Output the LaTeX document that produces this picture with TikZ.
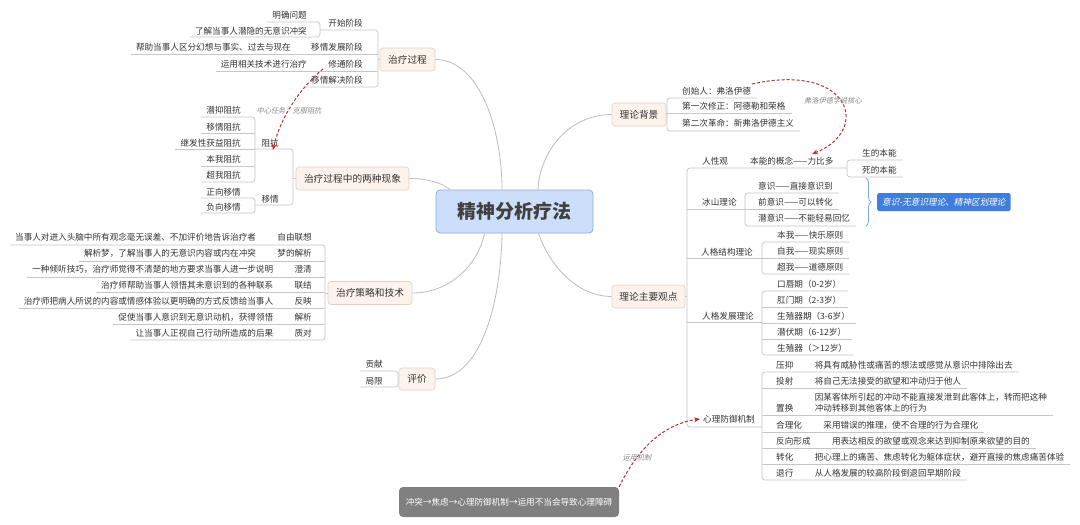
\documentclass[tikz,border=0pt]{standalone}
\usepackage{fontspec}
\setmainfont{Noto Sans CJK SC}
\newfontfamily\slfont[FakeSlant=0.2]{Noto Sans CJK SC}
\usetikzlibrary{decorations.pathreplacing,arrows.meta}
\definecolor{txtc}{HTML}{333333}
\definecolor{linec}{HTML}{C6C6C6}
\definecolor{curvec}{HTML}{BDBDBD}
\definecolor{topicfill}{HTML}{FDF3EC}
\definecolor{topicdraw}{HTML}{E3CFC1}
\definecolor{rootfill}{HTML}{CCDEFA}
\definecolor{rootdraw}{HTML}{8FAAD8}
\definecolor{relc}{HTML}{B83232}
\definecolor{sumfill}{HTML}{3F7FDB}
\definecolor{bracec}{HTML}{7FA8E0}
\definecolor{graybox}{HTML}{808080}
\definecolor{notec}{HTML}{8A8A8A}
\newcommand\ulL[2]{\coordinate (tmp) at ([xshift=-5pt]#1.west); \coordinate (#1u) at (tmp |- 0,#2);}
\newcommand\ulR[2]{\coordinate (tmp) at ([xshift=6pt]#1.east); \coordinate (#1u) at (tmp |- 0,#2);}
\begin{document}
\begin{tikzpicture}[x=1pt,y=-1pt,
  txt/.style={inner sep=0pt, font=\fontsize{8.6}{10.7}\selectfont, text=txtc},
  topic/.style={draw=topicdraw, fill=topicfill, rounded corners=3pt, font=\fontsize{9.7}{11}\selectfont, text=txtc, minimum height=23pt, inner sep=0pt, line width=0.6pt},
  tree/.style={draw=linec, line width=0.7pt, rounded corners=3pt},
  curve/.style={draw=curvec, line width=0.8pt},
  rel/.style={draw=relc, line width=1pt, dash pattern=on 3pt off 2pt, -{Stealth[length=6pt,width=5pt]}},
  note/.style={inner sep=0pt, font=\slfont\fontsize{7.2}{8}\selectfont, text=notec},
]
\fill[white] (0,0) rectangle (1080,525);
\useasboundingbox (0,0) rectangle (1080,525);

% ---------- root ----------
\node[draw=rootdraw, fill=rootfill, rounded corners=4pt, minimum width=157pt, minimum height=43pt, inner sep=0pt, line width=0.7pt,
      font=\bfseries\fontsize{19}{22}\selectfont, text=black!75] (root) at (514.5,211.5) {精神分析疗法};

% ---------- topics ----------
\node[topic, minimum width=55pt] (t1) at (407.5,59.5) {治疗过程};
\node[topic, minimum width=113pt] (t2) at (352.5,178.5) {治疗过程中的两种现象};
\node[topic, minimum width=84pt] (t3) at (370,293) {治疗策略和技术};
\node[topic, minimum width=36pt, minimum height=22pt] (t6) at (417,379) {评价};
\node[topic, minimum width=54pt] (t4) at (639,114.5) {理论背景};
\node[topic, minimum width=73pt] (t5) at (648.5,296.5) {理论主要观点};

% ---------- main curves ----------
\draw[curve] (t1.east) .. controls (480,59.5) and (502,130) .. ([xshift=-12.5pt]root.north);
\draw[curve] (t2.east) .. controls (428,178.5) and (442,183) .. ([xshift=-64.5pt]root.north);
\draw[curve] (t4.west) .. controls (570,114.5) and (540,150) .. ([xshift=23.5pt]root.north);
\draw[curve] (t3.east) .. controls (452,293) and (479,262) .. ([xshift=-30pt]root.south);
\draw[curve] (t6.east) .. controls (482,379) and (501,300) .. ([xshift=-12.5pt]root.south);
\draw[curve] (t5.west) .. controls (575,296.5) and (548,262) .. ([xshift=24pt]root.south);

% ---------- 治疗过程 ----------
\node[txt, anchor=east] (a1) at (363,23) {开始阶段};
\node[txt, anchor=east] (a11) at (307,15) {明确问题};
\node[txt, anchor=east] (a12) at (307,31) {了解当事人潜隐的无意识冲突};
\node[txt, anchor=east] (a2) at (363,47) {移情发展阶段};
\node[txt, anchor=east] (a21) at (291,47) {帮助当事人区分幻想与事实、过去与现在};
\node[txt, anchor=east] (a3) at (363,64) {修通阶段};
\node[txt, anchor=east] (a31) at (307,64) {运用相关技术进行治疗};
\node[txt, anchor=east] (a4) at (363,80) {移情解决阶段};
\ulL{a11}{22} \ulL{a12}{37} \ulL{a21}{54} \ulL{a31}{71} \ulL{a4}{87}
\draw[tree] (a11u) -- (320,22) -- (320,37) -- (a12u);
\draw[tree] (320,30) -- (378,30) -- (378,87) -- (a4u);
\draw[tree] (a21u) -- (378,54);
\draw[tree] (a31u) -- (378,71);
\draw[tree] (378,59.5) -- (t1.west);

% ---------- 两种现象 ----------
\node[txt, anchor=east] (b1) at (279,143) {阻抗};
\node[txt, anchor=east] (b2) at (279,199) {移情};
\node[txt, anchor=east] (b11) at (241,110) {潜抑阻抗};
\node[txt, anchor=east] (b12) at (241,127) {移情阻抗};
\node[txt, anchor=east] (b13) at (241,143) {继发性获益阻抗};
\node[txt, anchor=east] (b14) at (241,159) {本我阻抗};
\node[txt, anchor=east] (b15) at (241,175) {超我阻抗};
\node[txt, anchor=east] (b21) at (241,192) {正向移情};
\node[txt, anchor=east] (b22) at (241,207) {负向移情};
\ulL{b11}{117} \ulL{b12}{133} \ulL{b13}{149} \ulL{b14}{166} \ulL{b15}{182} \ulL{b21}{198} \ulL{b22}{213}
\draw[tree] (b11u) -- (255,117) -- (255,182) -- (b15u);
\draw[tree] (b12u) -- (255,133);
\draw[tree] (b13u) -- (255,149);
\draw[tree] (b14u) -- (255,166);
\draw[tree] (b21u) -- (255,198) -- (255,213) -- (b22u);
\draw[tree] (255,149) -- (293,149) -- (293,205) -- (255,205);
\draw[tree] (293,178.5) -- (t2.west);

\coordinate (r1s) at (323,69);
\draw[rel] (r1s) .. controls (300,88) and (280,118) .. (273,150);
\node[note] (n1) at (289,111) {中心任务：克服阻抗};

% ---------- 治疗策略和技术 ----------
\newcommand\srow[4]{\node[txt,anchor=east] (#1) at (312,#2) {#3}; \node[txt,anchor=east] (#1d) at ([xshift=-21pt]#1.west) {#4};}
\srow{s1}{237}{自由联想}{当事人对进入头脑中所有观念毫无误差、不加评价地告诉治疗者}
\srow{s2}{253}{梦的解析}{解析梦，了解当事人的无意识内容或内在冲突}
\srow{s3}{269}{澄清}{一种倾听技巧，治疗师觉得不清楚的地方要求当事人进一步说明}
\srow{s4}{285}{联结}{治疗师帮助当事人领悟其未意识到的各种联系}
\srow{s5}{301}{反映}{治疗师把病人所说的内容或情感体验以更明确的方式反馈给当事人}
\srow{s6}{317}{解析}{促使当事人意识到无意识动机，获得领悟}
\srow{s7}{333}{质对}{让当事人正视自己行动所造成的后果}
\ulL{s1d}{245} \ulL{s2d}{261} \ulL{s3d}{277} \ulL{s4d}{292} \ulL{s5d}{308} \ulL{s6d}{324} \ulL{s7d}{340}
\draw[tree] (s1du) -- (325,245) -- (325,340) -- (s7du);
\draw[tree] (s2du) -- (325,261);
\draw[tree] (s3du) -- (325,277);
\draw[tree] (s4du) -- (325,292);
\draw[tree] (s5du) -- (325,308);
\draw[tree] (s6du) -- (325,324);
\draw[tree] (325,293) -- (t3.west);

% ---------- 评价 ----------
\node[txt, anchor=east] (i1) at (383,364) {贡献};
\node[txt, anchor=east] (i2) at (383,381) {局限};
\ulL{i1}{371} \ulL{i2}{387}
\draw[tree] (i1u) -- (398,371) -- (398,387) -- (i2u);

% ---------- 理论背景 ----------
\node[txt, anchor=west] (c1) at (682,91) {创始人：弗洛伊德};
\node[txt, anchor=west] (c2) at (682,106) {第一次修正：阿德勒和荣格};
\node[txt, anchor=west] (c3) at (682,123) {第二次革命：新弗洛伊德主义};
\ulR{c1}{98} \ulR{c2}{113} \ulR{c3}{131}
\draw[tree] (c1u) -- (667,98) -- (667,131) -- (c3u);
\draw[tree] (667,113) -- (c2u);
\draw[tree] (t4.east) -- (667,114.5);

% ---------- 理论主要观点 ----------
\draw[tree] (t5.east) -- (687,296.5);
\draw[tree] (847,168) -- (687,168) -- (687,427) -- (762,427);
\draw[tree] (687,209) -- (745,209);
\draw[tree] (687,258) -- (762,258);
\draw[tree] (687,322) -- (762,322);

\node[txt, anchor=west] (d) at (702,161) {人性观};
\node[txt, anchor=west] (d1) at (750,161) {本能的概念——力比多};
\node[txt, anchor=west] (d11) at (862,153) {生的本能};
\node[txt, anchor=west] (d12) at (862,170) {死的本能};
\ulR{d11}{160} \ulR{d12}{177}
\draw[tree] (d11u) -- (847,160) -- (847,177) -- (d12u);

\node[txt, anchor=west] (e) at (702,202) {冰山理论};
\node[txt, anchor=west] (e1) at (758,186) {意识——直接意识到};
\node[txt, anchor=west] (e2) at (758,202) {前意识——可以转化};
\node[txt, anchor=west] (e3) at (758,218) {潜意识——不能轻易回忆};
\ulR{e1}{193} \ulR{e2}{209} \ulR{e3}{226}
\draw[tree] (e1u) -- (745,193) -- (745,226) -- (e3u);
\draw[tree] (745,209) -- (e2u);
\draw[draw=bracec, line width=0.8pt, decorate, decoration={brace, amplitude=5pt}] (866,178) -- (866,226);
\node[fill=sumfill, rounded corners=2pt, text=white, font=\slfont\fontsize{8.6}{10}\selectfont, minimum height=18pt, inner xsep=5pt, inner ysep=0pt, anchor=west] (sum1) at (877,202) {意识-无意识理论、精神区划理论};

\node[txt, anchor=west] (f) at (701,252) {人格结构理论};
\node[txt, anchor=west] (f1) at (777,235) {本我——快乐原则};
\node[txt, anchor=west] (f2) at (777,251) {自我——现实原则};
\node[txt, anchor=west] (f3) at (777,267) {超我——道德原则};
\ulR{f1}{242} \ulR{f2}{258} \ulR{f3}{274}
\draw[tree] (f1u) -- (762,242) -- (762,274) -- (f3u);
\draw[tree] (762,258) -- (f2u);

\node[txt, anchor=west] (g) at (702,316) {人格发展理论};
\node[txt, anchor=west] (g1) at (777,284) {口唇期（0-2岁）};
\node[txt, anchor=west] (g2) at (777,300) {肛门期（2-3岁）};
\node[txt, anchor=west] (g3) at (777,316) {生殖器期（3-6岁）};
\node[txt, anchor=west] (g4) at (777,332) {潜伏期（6-12岁）};
\node[txt, anchor=west] (g5) at (777,348) {生殖器（＞12岁）};
\ulR{g1}{291} \ulR{g2}{307} \ulR{g3}{323} \ulR{g4}{339} \ulR{g5}{355}
\draw[tree] (g1u) -- (762,291) -- (762,355) -- (g5u);
\draw[tree] (762,307) -- (g2u);
\draw[tree] (762,323) -- (g3u);
\draw[tree] (762,339) -- (g4u);

\node[txt, anchor=west] (h) at (703,419) {心理防御机制};
\node[txt, anchor=west] (h1) at (776,365) {压抑};
\node[txt, anchor=west] (h2) at (776,381) {投射};
\node[txt, anchor=west] (h3) at (776,408) {置换};
\node[txt, anchor=west] (h4) at (776,425) {合理化};
\node[txt, anchor=west] (h5) at (776,441) {反向形成};
\node[txt, anchor=west] (h6) at (776,457) {转化};
\node[txt, anchor=west] (h7) at (776,473) {退行};
\node[txt, anchor=west] (h1d) at ([xshift=21pt]h1.east) {将具有威胁性或痛苦的想法或感觉从意识中排除出去};
\node[txt, anchor=west] (h2d) at ([xshift=21pt]h2.east) {将自己无法接受的欲望和冲动归于他人};
\node[txt, anchor=west, align=left] (h3d) at ([xshift=21pt,yshift=5.3pt]h3.east) {因某客体所引起的冲动不能直接发泄到此客体上，转而把这种\\冲动转移到其他客体上的行为};
\node[txt, anchor=west] (h4d) at ([xshift=21pt]h4.east) {采用错误的推理，使不合理的行为合理化};
\node[txt, anchor=west] (h5d) at ([xshift=21pt]h5.east) {用表达相反的欲望或观念来达到抑制原来欲望的目的};
\node[txt, anchor=west] (h6d) at ([xshift=21pt]h6.east) {把心理上的痛苦、焦虑转化为躯体症状，避开直接的焦虑痛苦体验};
\node[txt, anchor=west] (h7d) at ([xshift=21pt]h7.east) {从人格发展的较高阶段倒退回早期阶段};
\ulR{h1d}{372} \ulR{h2d}{388} \ulR{h3d}{415} \ulR{h4d}{432} \ulR{h5d}{448} \ulR{h6d}{464} \ulR{h7d}{480}
\draw[tree] (h1du) -- (762,372) -- (762,480) -- (h7du);
\draw[tree] (762,388) -- (h2du);
\draw[tree] (762,415) -- (h3du);
\draw[tree] (762,432) -- (h4du);
\draw[tree] (762,448) -- (h5du);
\draw[tree] (762,464) -- (h6du);

% ---------- relations ----------
\coordinate (r2s) at (752,84);
\draw[rel] (r2s) .. controls (850,62) and (872,130) .. (812,154);
\node[note] (n2) at (833,101) {弗洛伊德学说核心};

\node[fill=graybox, rounded corners=4pt, text=white, font=\fontsize{8.6}{10}\selectfont, minimum width=220pt, minimum height=30pt, inner sep=0pt] (gb) at (509,502) {冲突→焦虑→心理防御机制→运用不当会导致心理障碍};
\draw[rel] (gb.north east) .. controls (638,448) and (664,424) .. ([xshift=-3pt]h.west);
\node[note] (n3) at (637,458) {运用机制};

\end{tikzpicture}
\end{document}
